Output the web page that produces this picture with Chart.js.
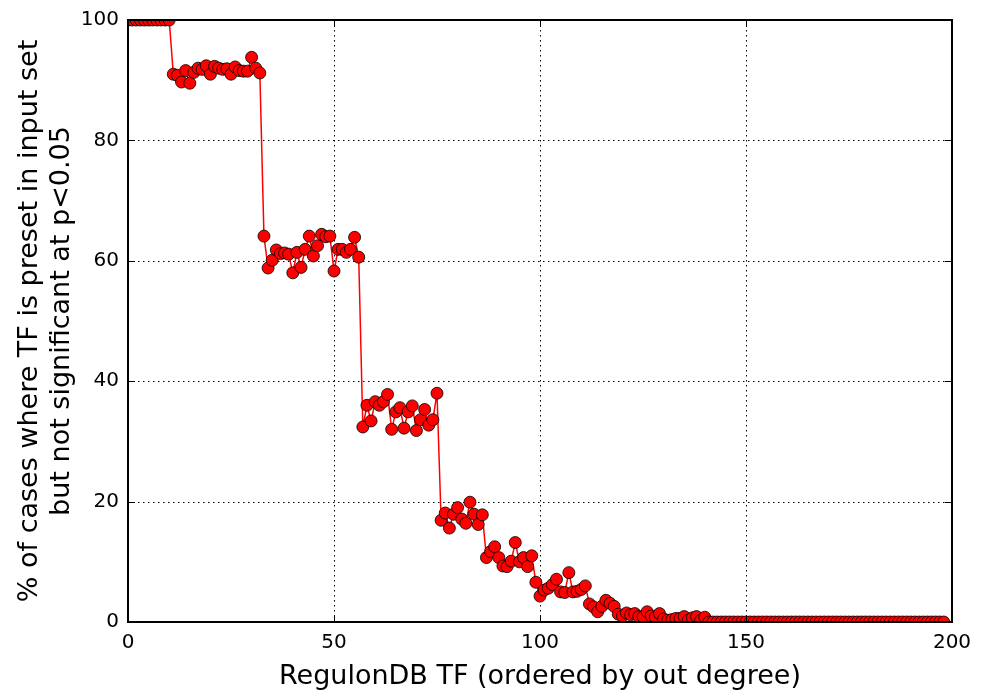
<!DOCTYPE html>
<html><head><meta charset="utf-8">
<script src="https://cdn.jsdelivr.net/npm/chart.js@4"></script>
<style>html,body{margin:0;padding:0;background:#fff;}#wrap{width:988px;height:692px;position:relative;}</style>
</head><body><div id="wrap"><canvas id="c"></canvas></div>
<script>
// Percentage of cases per RegulonDB TF (index = rank by out degree)
const pctValues = [
  100,100,100,100,100,100,100,100,100,100,100,
  91.0,90.8,89.7,91.6,89.5,91.3,92.0,91.8,92.4,91.0,92.3,92.0,91.8,91.9,91.0,92.2,91.6,91.5,91.5,93.8,92.0,91.2,
  64.1,58.8,60.1,61.8,61.2,61.3,61.1,58.0,61.4,58.9,61.9,64.1,60.8,62.5,64.4,64.0,64.1,58.3,61.9,61.9,61.4,61.9,63.9,60.6,
  32.4,36.0,33.4,36.6,36.0,36.6,37.8,32.0,34.9,35.6,32.2,34.9,35.9,31.8,33.6,35.3,32.7,33.6,38.0,
  16.9,18.1,15.6,17.9,19.0,17.1,16.4,19.9,17.9,16.2,17.8,
  10.7,11.7,12.5,10.7,9.3,9.2,10.1,13.2,10.0,10.7,9.2,11.0,
  6.6,4.3,5.3,5.6,6.2,7.1,5.0,4.9,8.2,5.0,5.1,5.4,6.0,3.0,2.5,1.7,2.6,3.6,3.1,2.6,
  1.3,1.0,1.5,1.2,1.4,0.9,0.9,1.7,1.0,0.8,1.4,0.5,0.3,0.4,0.6,0.6,0.9,0.3,0.7,0.9,0.3,0.8,
  0,0,0,0,0,0,0,0,0,0,
  0,0,0,0,0,0,0,0,0,0,
  0,0,0,0,0,0,0,0,0,0,
  0,0,0,0,0,0,0,0,0,0,
  0,0,0,0,0,0,0,0,0,0,
  0,0,0,0,0,0,0,0
];
const xTicks = [0, 50, 100, 150, 200];
const yTicks = [0, 20, 40, 60, 80, 100];
const xTitle = 'RegulonDB TF (ordered by out degree)';
const yTitle = ['% of cases where TF is preset in input set', 'but not significant at p<0.05'];

const points = pctValues.map((v, i) => ({x: i, y: v}));
const FONT = "'DejaVu Sans', sans-serif";

const gridPlugin = {
  id: 'dotgrid',
  beforeDatasetsDraw(chart) {
    const {ctx, chartArea: a, scales} = chart;
    ctx.save();
    ctx.strokeStyle = '#000';
    ctx.lineWidth = 1;
    ctx.setLineDash([1.5, 3.5]);
    ctx.beginPath();
    xTicks.slice(1, -1).forEach(t => {
      const px = Math.round(scales.x.getPixelForValue(t)) + 0.5;
      ctx.moveTo(px, a.top); ctx.lineTo(px, a.bottom);
    });
    yTicks.slice(1, -1).forEach(t => {
      const py = Math.round(scales.y.getPixelForValue(t)) + 0.5;
      ctx.moveTo(a.left, py); ctx.lineTo(a.right, py);
    });
    ctx.stroke();
    ctx.restore();
  }
};

const framePlugin = {
  id: 'frame',
  afterDatasetsDraw(chart) {
    const {ctx, chartArea: a, scales} = chart;
    ctx.save();
    ctx.strokeStyle = '#000';
    ctx.lineWidth = 1;
    const L = 7;
    ctx.beginPath();
    xTicks.forEach(t => {
      const px = Math.round(scales.x.getPixelForValue(t)) + 0.5;
      ctx.moveTo(px, a.bottom); ctx.lineTo(px, a.bottom - L);
      ctx.moveTo(px, a.top); ctx.lineTo(px, a.top + L);
    });
    yTicks.forEach(t => {
      const py = Math.round(scales.y.getPixelForValue(t)) + 0.5;
      ctx.moveTo(a.left, py); ctx.lineTo(a.left + L, py);
      ctx.moveTo(a.right, py); ctx.lineTo(a.right - L, py);
    });
    ctx.stroke();
    ctx.lineWidth = 2;
    ctx.strokeRect(a.left, a.top, a.right - a.left, a.bottom - a.top);
    ctx.restore();
  }
};

new Chart(document.getElementById('c'), {
  type: 'line',
  data: {
    datasets: [{
      data: points,
      showLine: true,
      borderColor: '#ff0000',
      borderWidth: 1.5,
      backgroundColor: '#ff0000',
      pointBackgroundColor: '#ff0000',
      pointBorderColor: '#000000',
      pointBorderWidth: 0.8,
      pointRadius: 6,
      tension: 0
    }]
  },
  options: {
    responsive: true,
    maintainAspectRatio: false,
    animation: false,
    layout: {padding: {top: 20, right: 36, left: 0, bottom: 0}},
    plugins: {legend: {display: false}, tooltip: {enabled: false}},
    scales: {
      x: {
        type: 'linear', min: 0, max: 200,
        afterFit(s) { s.height = 70; },
        afterBuildTicks(s) { s.ticks = xTicks.map(v => ({value: v})); },
        border: {display: false},
        grid: {display: false},
        ticks: {color: '#000', font: {family: FONT, size: 20}, padding: 1, maxRotation: 0},
        title: {display: true, text: xTitle, color: '#000', font: {family: FONT, size: 27, lineHeight: 1.1}, padding: {top: 0, bottom: 0}}
      },
      y: {
        type: 'linear', min: 0, max: 100,
        afterFit(s) { s.width = 128; },
        afterBuildTicks(s) { s.ticks = yTicks.map(v => ({value: v})); },
        border: {display: false},
        grid: {display: false},
        ticks: {color: '#000', font: {family: FONT, size: 20}, padding: 1},
        title: {display: true, text: yTitle, color: '#000', font: {family: FONT, size: 27, lineHeight: 1.185}, padding: {top: 14, bottom: 0}}
      }
    }
  },
  plugins: [gridPlugin, framePlugin]
});
</script>
</body></html>
